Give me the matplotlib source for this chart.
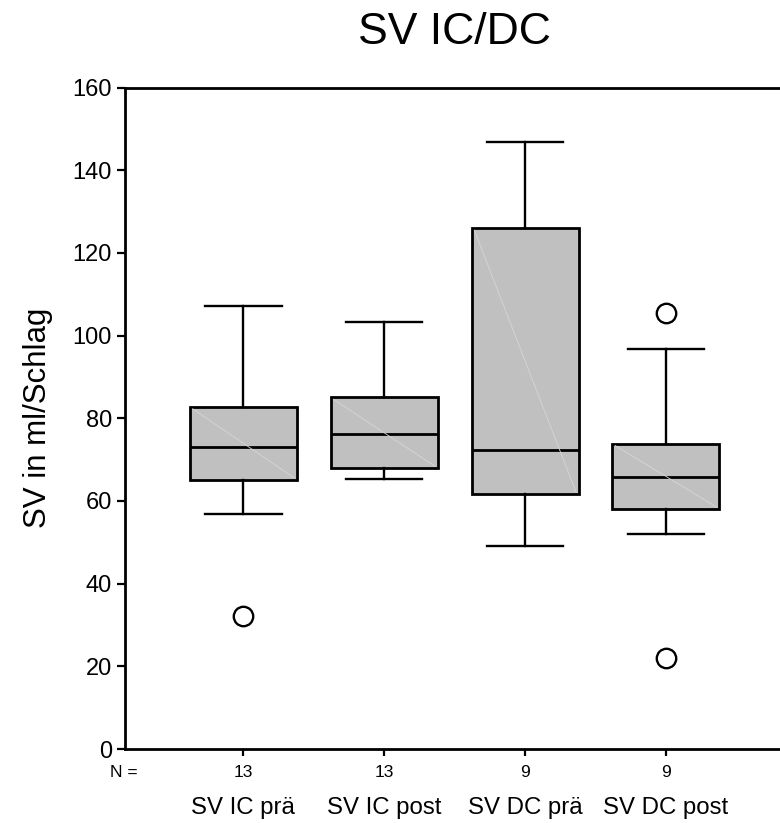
import matplotlib
matplotlib.use("Agg")
import matplotlib.pyplot as plt

plt.rcParams['font.family'] = ['Liberation Sans', 'DejaVu Sans']

# Boxplot summary per group (ml/Schlag)
groups = ["SV IC prä", "SV IC post", "SV DC prä", "SV DC post"]
n_values = [13, 13, 9, 9]
q1 = [65.1, 67.9, 61.8, 58.0]
median = [73.0, 76.2, 72.3, 65.7]
q3 = [82.8, 85.1, 126.0, 73.9]
whis_lo = [56.8, 65.2, 49.1, 51.9]
whis_hi = [107.2, 103.3, 146.9, 96.7]
outliers = [[32.2], [], [], [105.4, 21.9]]

fig = plt.figure(figsize=(7.8, 8.23), dpi=100)
ax = fig.add_axes([0.1603, 0.0899, 0.8397, 0.8037])

stats = []
for i in range(len(groups)):
    stats.append({"label": groups[i], "q1": q1[i], "med": median[i], "q3": q3[i],
                  "whislo": whis_lo[i], "whishi": whis_hi[i], "fliers": outliers[i]})

pos = list(range(1, len(groups) + 1))
box_w = 0.76
ax.bxp(stats, positions=pos, widths=box_w, patch_artist=True, capwidths=0.543,
       boxprops=dict(facecolor="#c0c0c0", edgecolor="black", linewidth=2.0),
       medianprops=dict(color="black", linewidth=2.0),
       whiskerprops=dict(color="black", linewidth=1.7),
       capprops=dict(color="black", linewidth=1.7),
       flierprops=dict(marker="o", markersize=14, markerfacecolor="white",
                       markeredgecolor="black", markeredgewidth=1.7))

# faint diagonal inside each box
for i, p in enumerate(pos):
    ax.plot([p - box_w / 2 + 0.02, p + box_w / 2 - 0.02], [q3[i] - 0.5, q1[i] + 0.5],
            color="#d6d6d6", linewidth=0.6, zorder=3)

ax.set_xlim(0.16, 4.81)
ax.set_ylim(0, 160)
ax.set_yticks(range(0, 161, 20))
ax.set_xticks(pos)
ax.set_xticklabels([])
ax.tick_params(axis="y", labelsize=17, length=6, width=1.6, pad=3.5)
ax.tick_params(axis="x", length=5, width=1.6)

for s in ["left", "top", "bottom"]:
    ax.spines[s].set_linewidth(2)
ax.spines["right"].set_visible(False)

xt = ax.get_xaxis_transform()
ax.text(0.15, -0.035, "N =", transform=xt, ha="center", va="center", fontsize=12.5,
        clip_on=False)
for p, n, g in zip(pos, n_values, groups):
    ax.text(p, -0.035, str(n), transform=xt, ha="center", va="center", fontsize=12.5)
    ax.text(p, -0.089, g, transform=xt, ha="center", va="center", fontsize=17.3)

ax.set_ylabel("SV in ml/Schlag", fontsize=22.5, labelpad=14)
fig.text(0.583, 0.961, "SV IC/DC", ha="center", va="center", fontsize=32)

fig.savefig("out.png", dpi=100)
